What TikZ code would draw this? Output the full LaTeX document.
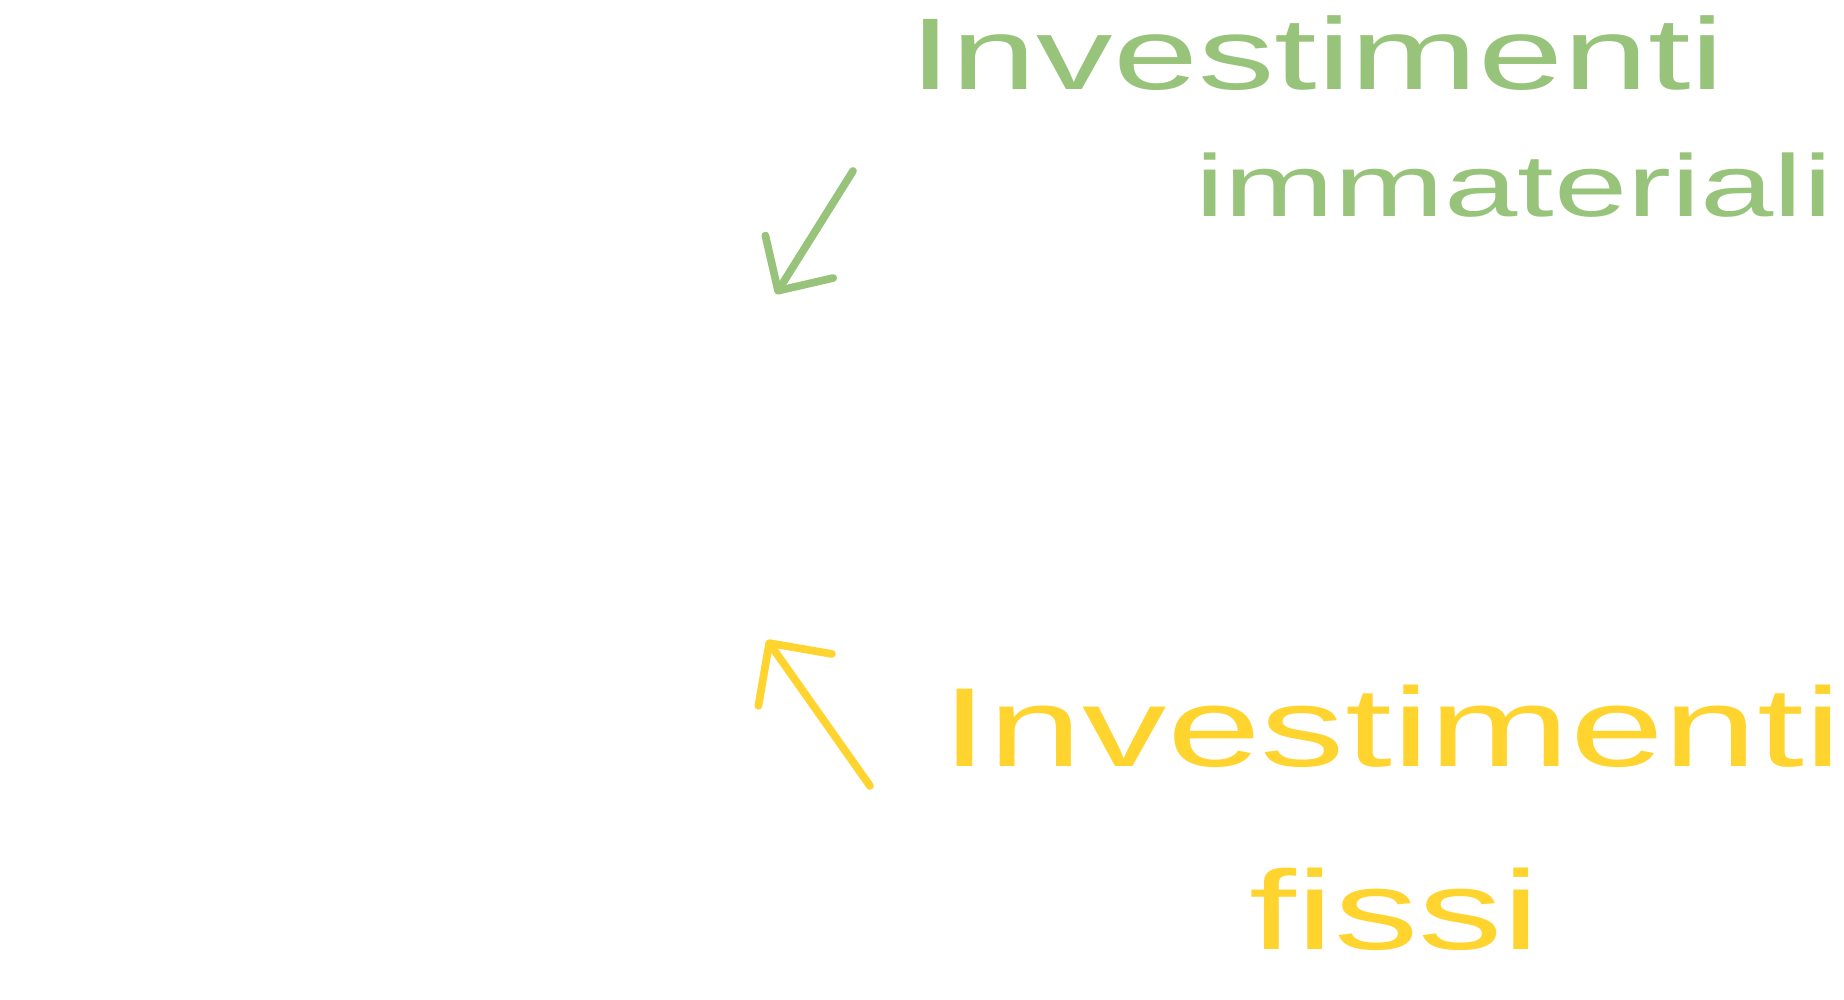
\documentclass[tikz,border=0pt]{standalone}
\usepackage{fontspec}
\usepackage{tikz}
\usetikzlibrary{arrows.meta,positioning}
\newfontfamily\handfont[FakeStretch=1.5]{Liberation Sans}
\definecolor{handgreen}{RGB}{151,196,122}
\definecolor{handyellow}{RGB}{255,212,46}
\tikzset{
  greenlabel/.style={text=handgreen, anchor=base, inner sep=0pt, font=\handfont\fontsize{29}{34}\selectfont},
  yellowlabel/.style={text=handyellow, anchor=base, inner sep=0pt, font=\handfont\fontsize{32}{38}\selectfont},
  greenarrow/.style={-{Straight Barb[round,length=4mm,width=8mm]}, line width=2.2pt, line cap=round, draw=handgreen},
  yellowarrow/.style={-{Straight Barb[round,length=4.5mm,width=9mm]}, line width=2.2pt, line cap=round, draw=handyellow}
}

\begin{document}
\begin{tikzpicture}[node distance=7mm]
\useasboundingbox (0,0) rectangle (18.44,10);
% labels
\node[greenlabel] (intang1) at (13.17,9.10) {Investimenti};
\node[greenlabel, font=\handfont\fontsize{25}{30}\selectfont] (intang2) at (15.14,7.83) {immateriali};
\node[yellowlabel] (fixed1) at (13.92,2.33) {Investimenti};
\node[yellowlabel] (fixed2) at (13.95,0.50) {fissi};
% arrows
\coordinate (intangfrom) at (8.53,8.29);
\coordinate (intangto) at (7.76,7.06);
\coordinate (fixedfrom) at (8.70,2.14);
\coordinate (fixedto) at (7.67,3.60);
\draw[greenarrow] (intangfrom) -- (intangto);
\draw[yellowarrow] (fixedfrom) -- (fixedto);
\end{tikzpicture}
\end{document}
